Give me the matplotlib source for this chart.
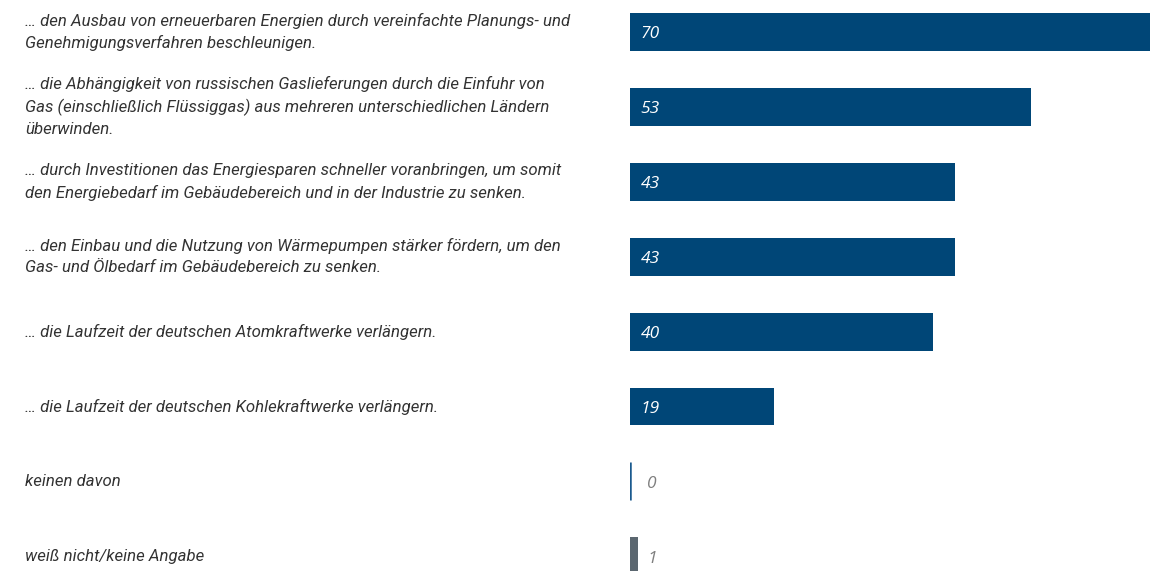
import matplotlib.pyplot as plt
import numpy as np

# Data
labels = [
    "… den Ausbau von erneuerbaren Energien durch vereinfachte Planungs- und\nGenehmigungsverfahren beschleunigen.",
    "… die Abhängigkeit von russischen Gaslieferungen durch die Einfuhr von\nGas (einschließlich Flüssiggas) aus mehreren unterschiedlichen Ländern\nüberwinden.",
    "… durch Investitionen das Energiesparen schneller voranbringen, um somit\nden Energiebedarf im Gebäudebereich und in der Industrie zu senken.",
    "… den Einbau und die Nutzung von Wärmepumpen stärker fördern, um den\nGas- und Ölbedarf im Gebäudebereich zu senken.",
    "… die Laufzeit der deutschen Atomkraftwerke verlängern.",
    "… die Laufzeit der deutschen Kohlekraftwerke verlängern.",
    "keinen davon",
    "weiß nicht/keine Angabe",
]
values = [70, 53, 43, 43, 40, 19, 0, 1]
bar_colors = ["#004677"] * 6 + ["#1a5a8f", "#5b6770"]

W, H = 1150, 571
fig = plt.figure(figsize=(W / 100, H / 100), dpi=100)
ax = fig.add_axes([630 / W, 0, 1 - 630 / W, 1])

y = np.arange(len(values))
bar_h = 0.507
row = 74.9

for yi, v, c, lab in zip(y, values, bar_colors, labels):
    if v == 0:
        ax.plot([v, v], [yi - bar_h / 2, yi + bar_h / 2], color=c, lw=1.8,
                solid_capstyle="butt")
    else:
        ax.barh(yi, v, height=bar_h, color=c)
    if v >= 5:
        ax.annotate(f"{v}", xy=(0, yi), xytext=(7.5, -1.5), textcoords="offset points",
                    ha="left", va="center", color="white", fontsize=12.5,
                    fontstyle="italic", family="Open Sans")
    else:
        ax.annotate(f"{v}", xy=(0, yi), xytext=(12.5, -2), textcoords="offset points",
                    ha="left", va="center", color="#7f7f7f", fontsize=12.5,
                    fontstyle="italic", family="Open Sans")
    # category label on the left
    fig.text(25 / W, 1 - (32 + row * yi) / H, lab, ha="left", va="center",
             fontsize=12.1, fontstyle="italic", family="Roboto",
             color="#333333", linespacing=1.5)

ax.set_xlim(0, 68.7)
ax.set_ylim((H - 32) / row, -32 / row)
ax.axis("off")

fig.savefig("out.png", dpi=100)
